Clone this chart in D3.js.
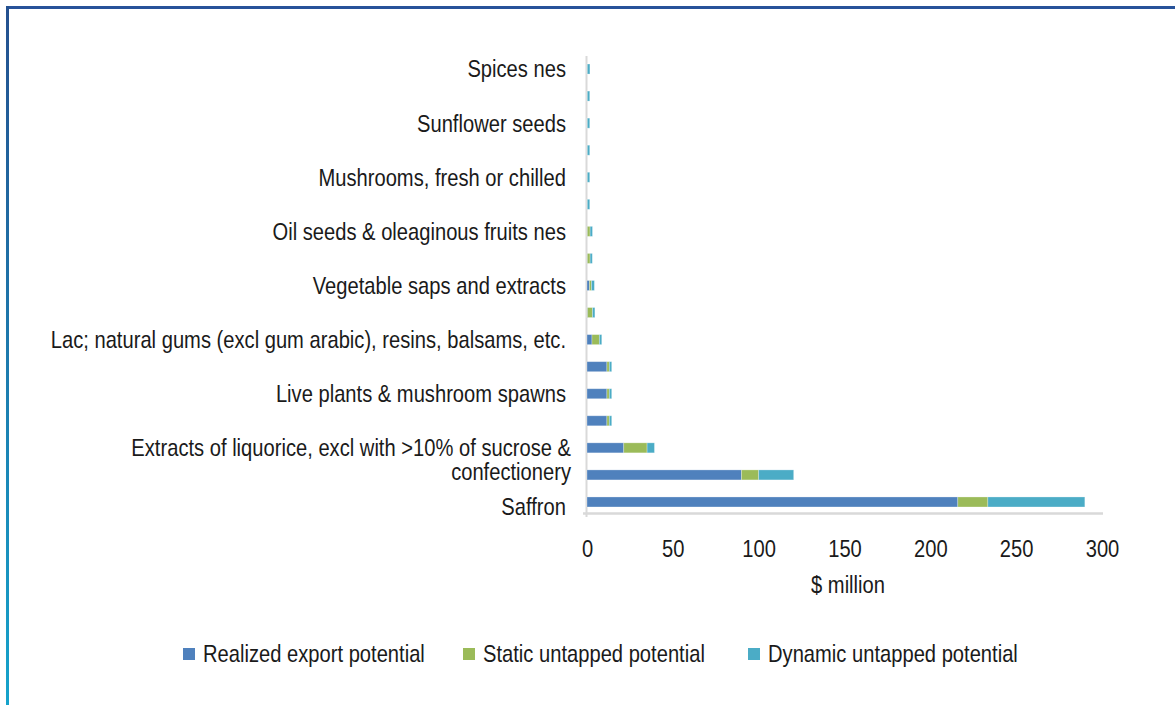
<!DOCTYPE html>
<html>
<head>
<meta charset="utf-8">
<script src="https://cdn.jsdelivr.net/npm/d3@7"></script>
<style>
  html, body { margin: 0; padding: 0; background: #fff; }
  svg text { font-family: "Liberation Sans", Arial, sans-serif; fill: #1a1a1a; }
</style>
</head>
<body>
<svg id="chart" width="1175" height="705"></svg>
<script>
// Categories listed from bottom (largest) to top; only every other one is labelled in the source
const categories = [
  "Saffron",
  "Category 2",
  "Extracts of liquorice, excl with >10% of sucrose & confectionery",
  "Category 4",
  "Live plants & mushroom spawns",
  "Category 6",
  "Lac; natural gums (excl gum arabic), resins, balsams, etc.",
  "Category 8",
  "Vegetable saps and extracts",
  "Category 10",
  "Oil seeds & oleaginous fruits nes",
  "Category 12",
  "Mushrooms, fresh or chilled",
  "Category 14",
  "Sunflower seeds",
  "Category 16",
  "Spices nes"
];
const labelLines = [
  ["Saffron"],
  null,
  ["Extracts of liquorice, excl with >10% of sucrose &", "confectionery"],
  null,
  ["Live plants & mushroom spawns"],
  null,
  ["Lac; natural gums (excl gum arabic), resins, balsams, etc."],
  null,
  ["Vegetable saps and extracts"],
  null,
  ["Oil seeds & oleaginous fruits nes"],
  null,
  ["Mushrooms, fresh or chilled"],
  null,
  ["Sunflower seeds"],
  null,
  ["Spices nes"]
];
const seriesNames = ["Realized export potential", "Static untapped potential", "Dynamic untapped potential"];
const seriesColors = ["#4f81bd", "#9bbb59", "#4bacc6"];
const realized = [216, 90, 21.4, 11.6, 11.6, 11.6, 2.9, 0.3, 1.4, 0.2, 0.2, 0.1, 0.1, 0.1, 0.1, 0.1, 0.1];
const staticU  = [17.5, 10, 13.6, 1.4, 1.4, 1.4, 4.3, 2.9, 1.2, 1.6, 1.6, 0.1, 0.1, 0.1, 0.1, 0.1, 0.1];
const dynamicU = [56.5, 20.4, 4.3, 1.4, 1.4, 1.4, 1.4, 1.4, 1.7, 1.3, 1.4, 1.4, 1.4, 1.4, 1.4, 1.4, 1.5];
const xTicks = [0, 50, 100, 150, 200, 250, 300];
const xTitle = "$ million";

const FS = 24;        // font size
const SQ = 0.84;      // horizontal squeeze to emulate a condensed face

const svg = d3.select("#chart");

// helper: condensed text (supports multiple lines via tspans)
function ctext(parent, tx, ty, lines, anchor) {
  if (!Array.isArray(lines)) lines = [lines];
  const g = parent.append("g").attr("transform", `translate(${tx},${ty}) scale(${SQ},1)`);
  const t = g.append("text").attr("x", 0).attr("y", 0)
    .attr("font-size", FS).attr("text-anchor", anchor || "start");
  lines.forEach((ln, k) => {
    t.append("tspan").attr("x", 0).attr("y", k * 24).attr("dy", "0.35em").text(ln);
  });
  return t;
}

// Frame
const defs = svg.append("defs");
const grad = defs.append("linearGradient").attr("id", "leftGrad")
  .attr("x1", 0).attr("y1", 0).attr("x2", 0).attr("y2", 1);
grad.append("stop").attr("offset", "0%").attr("stop-color", "#24508f");
grad.append("stop").attr("offset", "100%").attr("stop-color", "#15a3cb");
svg.append("rect").attr("x", 6).attr("y", 6).attr("width", 1169).attr("height", 3).attr("fill", "#27529a");
svg.append("rect").attr("x", 6).attr("y", 6).attr("width", 3).attr("height", 699).attr("fill", "url(#leftGrad)");

const x = d3.scaleLinear().domain([0, 300]).range([587, 1102]);
const y = d3.scaleBand().domain(categories).range([515.5, 55.5]).paddingInner(0.63).paddingOuter(0.315);

const stackData = categories.map((c, i) => ({ cat: c, s0: realized[i], s1: staticU[i], s2: dynamicU[i] }));
const stack = d3.stack().keys(["s0", "s1", "s2"])(stackData);

// Axes lines
svg.append("line").attr("x1", 586.5).attr("x2", 586.5).attr("y1", 56).attr("y2", 517)
  .attr("stroke", "#d9d9d9").attr("stroke-width", 2);
svg.append("line").attr("x1", 583).attr("x2", 1103).attr("y1", 513.5).attr("y2", 513.5)
  .attr("stroke", "#d9d9d9").attr("stroke-width", 2.5);

// Bars
stack.forEach((layer, si) => {
  svg.append("g").selectAll("rect").data(layer).join("rect")
    .attr("x", d => x(d[0]))
    .attr("y", d => y(d.data.cat))
    .attr("width", d => Math.max(0, x(d[1]) - x(d[0])))
    .attr("height", y.bandwidth())
    .attr("fill", seriesColors[si])
    .attr("stroke", "#ffffff").attr("stroke-opacity", 0.35).attr("stroke-width", 0.8);
});

// Category labels
const labG = svg.append("g");
categories.forEach((c, i) => {
  const lines = labelLines[i];
  if (!lines) return;
  const cy = y(c) + y.bandwidth() / 2;
  const extra = (i === 0) ? 5 : 0;
  const xr = (lines.length > 1) ? 571 : 566;
  ctext(labG, xr, cy + extra, lines, "end");
});

// X axis ticks
const xAxis = d3.axisBottom(x).tickValues(xTicks).tickSize(0).tickPadding(0);
const gx = svg.append("g").attr("transform", "translate(0,549)").call(xAxis);
gx.select(".domain").remove();
gx.selectAll(".tick").each(function(d) {
  const t = d3.select(this);
  t.select("text").remove();
  const g = t.append("g").attr("transform", `scale(${SQ},1)`);
  g.append("text").attr("y", 0).attr("dy", "0.35em").attr("font-size", FS)
    .attr("text-anchor", "middle").attr("fill", "#1a1a1a")
    .style("font-family", "'Liberation Sans', Arial, sans-serif").text(d);
});

ctext(svg, 848, 585, xTitle, "middle");

// Legend
const legendX = [183, 463, 748];
const lg = svg.append("g");
seriesNames.forEach((n, i) => {
  lg.append("rect").attr("x", legendX[i]).attr("y", 648).attr("width", 12).attr("height", 12).attr("fill", seriesColors[i]);
  ctext(lg, legendX[i] + 20, 654, n, "start");
});
</script>
</body>
</html>
